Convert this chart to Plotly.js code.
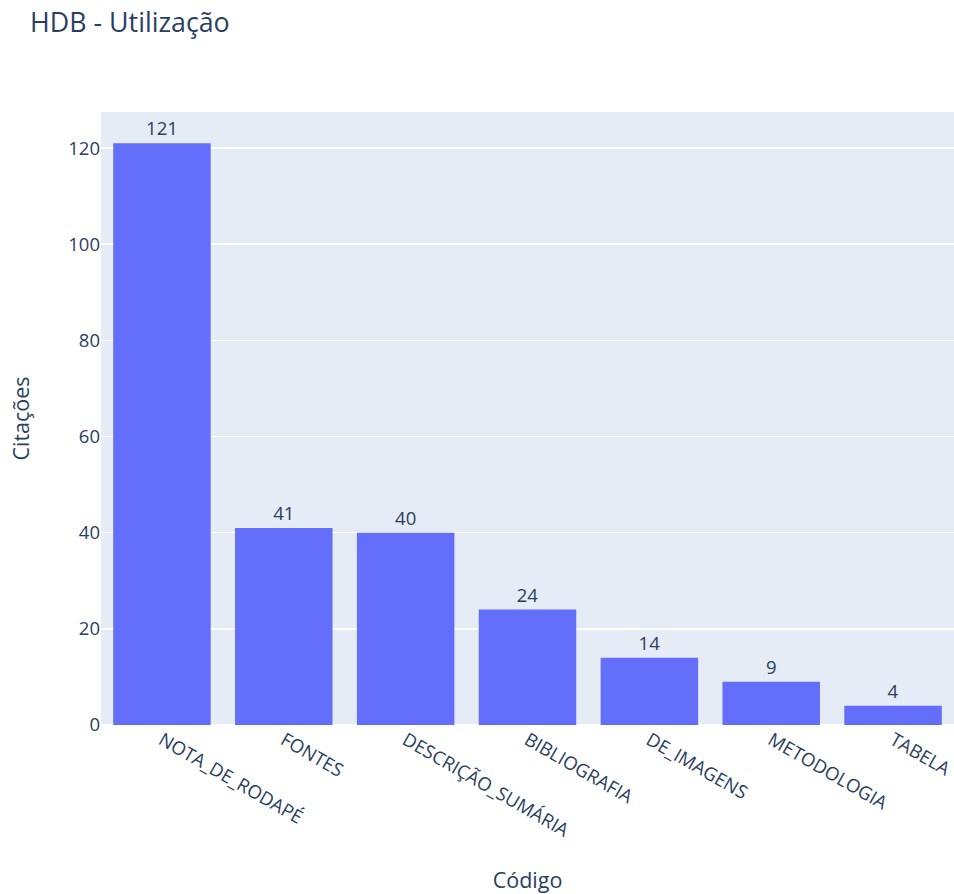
<!DOCTYPE html>
<html>
<head>
<meta charset="utf-8">
<script src="https://cdn.plot.ly/plotly-3.0.1.min.js"></script>
<style>
  html, body { margin: 0; padding: 0; background: #fff; }
  #chart { width: 954px; height: 894px; }
</style>
</head>
<body>
<div id="chart"></div>
<script>
// Citation counts per code
const codigos = ["NOTA_DE_RODAPÉ", "FONTES", "DESCRIÇÃO_SUMÁRIA", "BIBLIOGRAFIA", "DE_IMAGENS", "METODOLOGIA", "TABELA"];
const citacoes = [121, 41, 40, 24, 14, 9, 4];
const yTicks = [0, 20, 40, 60, 80, 100, 120];

const inkColor = "#2a3f5f";
const fontFamily = "'Open Sans', verdana, arial, sans-serif";

const trace = {
  type: "bar",
  x: codigos,
  y: citacoes,
  text: citacoes.map(String),
  textposition: "outside",
  textfont: { family: fontFamily, size: 18.5, color: inkColor },
  cliponaxis: false,
  marker: { color: "#636efa", line: { width: 0 } },
  hoverinfo: "x+y"
};

const layout = {
  width: 954,
  height: 894,
  margin: { l: 101, r: 0, t: 112, b: 169, autoexpand: false },
  paper_bgcolor: "#ffffff",
  plot_bgcolor: "#E5ECF6",
  font: { family: fontFamily, size: 18.5, color: inkColor },
  title: {
    text: "HDB - Utilização",
    font: { family: fontFamily, size: 26.8, color: inkColor },
    xref: "container",
    yref: "container",
    x: 30 / 954,
    xanchor: "left",
    y: 1 - 23 / 894,
    yanchor: "middle"
  },
  bargap: 0.2,
  showlegend: false,
  xaxis: {
    type: "category",
    tickangle: 30,
    automargin: false,
    showgrid: false,
    zeroline: false,
    ticks: "",
    tickfont: { family: fontFamily, size: 18.5, color: inkColor },
    title: { text: "Código", font: { family: fontFamily, size: 21.5, color: inkColor }, standoff: 32 }
  },
  yaxis: {
    range: [0, 127.5],
    tickvals: yTicks,
    ticktext: yTicks.map(String),
    automargin: false,
    gridcolor: "#ffffff",
    gridwidth: 1.5,
    zeroline: true,
    zerolinecolor: "#ffffff",
    zerolinewidth: 2,
    ticks: "",
    tickfont: { family: fontFamily, size: 18.5, color: inkColor },
    title: { text: "Citações", font: { family: fontFamily, size: 21.5, color: inkColor }, standoff: 32 }
  }
};

Plotly.newPlot("chart", [trace], layout, { displayModeBar: false, staticPlot: true });
</script>
</body>
</html>
